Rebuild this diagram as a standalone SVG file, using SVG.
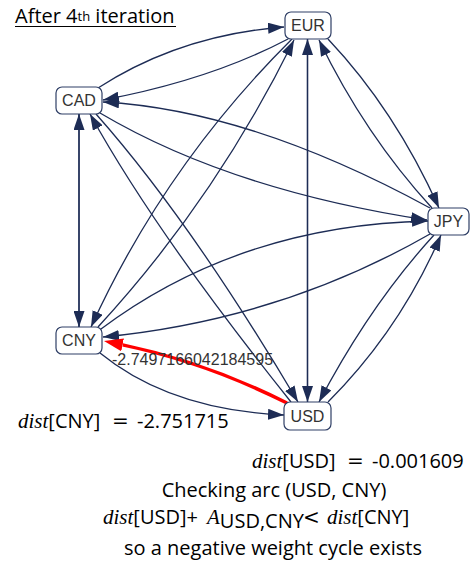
<svg xmlns="http://www.w3.org/2000/svg" width="470" height="567" viewBox="0 0 470 567">
<defs>
<style>
.e{fill:none;stroke:#1d2c55;stroke-width:1.3}
.n rect{fill:#fff;stroke:#2f3f66;stroke-width:1.2}
.n text{font-family:"Liberation Sans",Arial,sans-serif;font-size:16px;fill:#333;text-anchor:middle}
.sf{font-family:"Open Sans","DejaVu Sans",sans-serif;font-size:20px}
.mi{font-family:"Liberation Serif",serif;font-style:italic;font-size:21px}
.mo{font-family:"DejaVu Serif",serif;font-size:20px}
.t{fill:#000}
</style>
<marker id="ah" markerUnits="userSpaceOnUse" markerWidth="16" markerHeight="11" viewBox="0 0 16 11" refX="16" refY="5.5" orient="auto"><path d="M0,0L16,5.5L0,11z" fill="#1d2c55"/></marker>
<marker id="ar" markerUnits="userSpaceOnUse" markerWidth="19" markerHeight="13" viewBox="0 0 19 13" refX="0" refY="6.5" orient="auto"><path d="M0,0L19,6.5L0,13z" fill="#ff0000"/></marker>
</defs>
<rect width="470" height="567" fill="#fff"/>
<g id="title">
<text class="t sf" x="15" y="23">After 4<tspan font-size="13" dy="-2.5">th</tspan><tspan dy="2.5"> iteration</tspan></text>
<line x1="15" y1="26.5" x2="176" y2="26.5" stroke="#000" stroke-width="1"/>
</g>
<g id="edges" marker-end="url(#ah)">
<path class="e" d="M98,88 Q180,35 284,27"/>
<path class="e" d="M288,39 Q210,80 103,100"/>
<path class="e" d="M430,208 Q250,110 103,102"/>
<path class="e" d="M100,113 Q230,190 427,220"/>
<path class="e" d="M79,114 L79,327"/>
<path class="e" d="M79,327 L79,114"/>
<path class="e" d="M291,402 Q155,232 90,114"/>
<path class="e" d="M96,114 Q190,220 298,402"/>
<path class="e" d="M292,39 Q165,165 91,327"/>
<path class="e" d="M98,327 Q215,200 294,40"/>
<path class="e" d="M307.5,39 L307.5,402"/>
<path class="e" d="M307.5,402 L307.5,39"/>
<path class="e" d="M328,39 Q395,110 439,208"/>
<path class="e" d="M432,208 Q365,135 319,40"/>
<path class="e" d="M101,329 Q240,225 428,221"/>
<path class="e" d="M430,234 Q280,320 103,337"/>
<path class="e" d="M100,353 Q170,410 284,415"/>
<path class="e" d="M328,402 Q400,330 441,235"/>
<path class="e" d="M434,235 Q370,305 319,402"/>
<path d="M287,403 Q205,362 122.6,344.9" fill="none" stroke="#ff0000" stroke-width="3.5" marker-end="url(#ar)"/>
</g>
<g id="EUR" class="n"><rect x="285" y="12" width="46" height="27" rx="6"/><text x="308" y="31">EUR</text></g>
<g id="CAD" class="n"><rect x="56" y="87" width="46" height="27" rx="6"/><text x="79" y="106">CAD</text></g>
<g id="JPY" class="n"><rect x="428" y="208" width="41" height="27" rx="6"/><text x="448.5" y="227">JPY</text></g>
<g id="CNY" class="n"><rect x="56" y="327" width="46" height="27" rx="6"/><text x="79" y="346">CNY</text></g>
<g id="USD" class="n"><rect x="284" y="402" width="47" height="28" rx="6"/><text x="307.5" y="421.5">USD</text></g>
<text x="112" y="365" font-family="Liberation Sans,Arial,sans-serif" font-size="16" fill="#333">-2.7497166042184595</text>
<g id="notes" class="t">
<text y="428"><tspan x="18" class="mi">dist</tspan><tspan class="sf">[CNY]</tspan><tspan x="112" class="mo">=</tspan><tspan x="137" class="sf" font-size="19">-2.751715</tspan></text>
<text y="468"><tspan x="252" class="mi">dist</tspan><tspan class="sf">[USD]</tspan><tspan x="347" class="mo">=</tspan><tspan x="372" class="sf" font-size="19">-0.001609</tspan></text>
<text class="sf" x="274" y="497" text-anchor="middle">Checking arc (USD, CNY)</text>
<text y="524"><tspan x="103" class="mi">dist</tspan><tspan class="sf" font-size="21">[USD]+</tspan><tspan x="207" class="mi">A</tspan><tspan class="sf" font-size="15" dy="4">USD,CNY</tspan><tspan x="303" dy="-4" class="mo">&lt;</tspan><tspan x="327" class="mi">dist</tspan><tspan class="sf" font-size="21">[CNY]</tspan></text>
<text class="sf" x="273" y="555" text-anchor="middle" font-size="18.5">so a negative weight cycle exists</text>
</g>
</svg>
